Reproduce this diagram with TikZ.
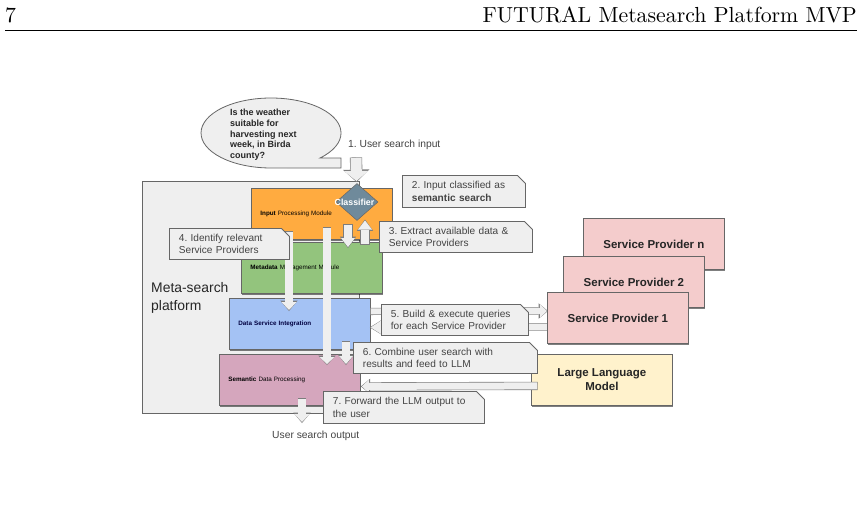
\documentclass[tikz,border=0pt]{standalone}
\usepackage{fontspec}
\setsansfont{Liberation Sans}
\newfontfamily\headfont[Extension=.otf]{lmroman10-regular}
\frenchspacing
\usetikzlibrary{arrows.meta,shapes.geometric,shapes.misc,shadows}
\definecolor{edgegray}{HTML}{666666}
\definecolor{palegray}{HTML}{EFEFEF}
\definecolor{inputorange}{HTML}{FFAB40}
\definecolor{metagreen}{HTML}{93C47D}
\definecolor{dsiblue}{HTML}{A4C2F4}
\definecolor{sdpmauve}{HTML}{D5A6BD}
\definecolor{sprose}{HTML}{F4CCCC}
\definecolor{llmyellow}{HTML}{FFF2CC}
\definecolor{slateblue}{HTML}{6F8A9B}
\definecolor{labelgray}{HTML}{434343}
\tikzset{
	softshadow/.style = {drop shadow={shadow xshift=0.8pt, shadow yshift=-1.5pt, opacity=0.5, fill=black}},
	modbox/.style = {rectangle, draw=edgegray, line width=0.8pt, anchor=north west, inner xsep=9pt, inner ysep=0pt,
		text width=123pt, minimum height=51pt, align=left, font=\sffamily\fontsize{6.3}{7.5}\selectfont, softshadow},
	provider/.style = {rectangle, draw=edgegray, line width=0.8pt, anchor=north west, inner sep=0pt,
		minimum width=141pt, minimum height=51pt, align=center, font=\sffamily\bfseries\fontsize{11.5}{13.7}\selectfont, text=black!85, softshadow},
	note/.style = {chamfered rectangle, chamfered rectangle corners=north east, chamfered rectangle xsep=4pt, chamfered rectangle ysep=4pt,
		draw=edgegray, fill=palegray, line width=0.8pt, anchor=north west, inner xsep=5.5pt, inner ysep=0pt,
		align=left, text=labelgray, font=\sffamily\fontsize{10.1}{12.9}\selectfont},
	plainlabel/.style = {anchor=west, inner sep=0pt, text=labelgray, font=\sffamily\fontsize{10.3}{12}\selectfont},
	blockarrow/.style n args = {3}{line width=#1, draw=palegray, -{Triangle[width=#2, length=#3, line width=0pt]},
		preaction={draw=edgegray!85, line width=#1+1.2pt, shorten >=-1pt, shorten <=-0.6pt,
			-{Triangle[width=#2+2.4pt, length=#3+2.4pt, line width=0pt]}}}
}
\begin{document}
\begin{tikzpicture}[x=1pt,y=1pt]
\useasboundingbox (0,0) rectangle (863,-512);
% running head
\node [anchor=base west, inner sep=0pt, font=\headfont\fontsize{21.8}{26}\selectfont] (pagenum) at (5,-22) {7};
\node [anchor=base east, inner sep=0pt, font=\headfont\fontsize{21.8}{26}\selectfont] (runhead) at (857,-22) {FUTURAL Metasearch Platform MVP};
\coordinate (ruleleft) at (5,-30);
\coordinate (ruleright) at (857,-30);
\draw [line width=0.8pt] (ruleleft) -- (ruleright);

% platform and speech bubble
\node [rectangle, draw=edgegray, fill=palegray, line width=0.8pt, anchor=north west, inner sep=0pt, minimum width=217pt, minimum height=232pt] (platform) at (141.5,-181) {};
\node [anchor=north west, inner sep=0pt, align=left, font=\sffamily\fontsize{13.9}{18}\selectfont, text=black!85] (platformlabel) at (151,-282) {Meta-search\\platform};
\draw [draw=edgegray, fill=palegray, line width=0.8pt] (320,-158) arc[start angle=-45.6, end angle=270, x radius=70, y radius=35] -- (341,-168) -- (341,-158) -- cycle;
\node [anchor=north west, inner sep=0pt, align=left, font=\sffamily\bfseries\fontsize{9}{10.7}\selectfont, text=black!85] (question) at (230,-109) {Is the weather\\suitable for\\harvesting next\\week, in Birda\\county?};

% modules
\node [modbox, fill=inputorange] (input) at (251,-188) {\textbf{Input} Processing Module};
\node [modbox, fill=metagreen] (metadata) at (241,-242) {\textbf{Metadata} Management Module};
\node [modbox, fill=dsiblue, text=blue!25!black] (dsi) at (229,-298) {\textbf{Data Service Integration}};
\node [modbox, fill=sdpmauve] (sdp) at (219,-354) {\textbf{Semantic} Data Processing};

% providers and model
\node [provider, fill=sprose] (spn) at (583,-218) {Service Provider n};
\node [provider, fill=sprose] (sptwo) at (563,-256) {Service Provider 2};
\node [provider, fill=llmyellow] (llm) at (531,-354) {Large Language\\Model};

% arrows
\coordinate (userin) at (356,-158);
\coordinate (identify) at (289,-232);
\coordinate (userout) at (302,-422);
\coordinate (classifiertop) at (356.5,-181);
\coordinate (classifierbottom) at (357,-220.5);
\draw [blockarrow={11pt}{24pt}{10pt}] (userin) -- (classifiertop);
\draw [blockarrow={8.5pt}{14pt}{9pt}] ([xshift=-9pt,yshift=-4pt]classifierbottom) -- ([xshift=107pt,yshift=-5pt]metadata.north west);
\draw [blockarrow={8.5pt}{14pt}{9pt}] ([xshift=124pt,yshift=-2pt]metadata.north west) -- ([xshift=8pt]classifierbottom);
\draw [blockarrow={7.5pt}{15pt}{8pt}] (identify) -- ([xshift=60pt,yshift=-12pt]dsi.north west);
\draw [blockarrow={7.5pt}{15pt}{7pt}] ([xshift=76pt,yshift=-40pt]input.north west) -- ([xshift=108pt,yshift=-10pt]sdp.north west);
\draw [blockarrow={7.5pt}{14pt}{8pt}] ([xshift=117pt,yshift=8pt]dsi.south west) -- ([xshift=127pt,yshift=-10pt]sdp.north west);
\draw [blockarrow={7.5pt}{15pt}{8pt}] ([xshift=83pt,yshift=7pt]sdp.south west) -- (userout);
\draw [blockarrow={6pt}{13pt}{7pt}] ([yshift=12.5pt]dsi.east) -- (547,-311);
\draw [blockarrow={6pt}{13pt}{10pt}] (547,-327) -- ([yshift=-3.5pt]dsi.east);
\draw [blockarrow={7pt}{13pt}{7pt}] ([xshift=6pt,yshift=-6pt]llm.west) -- ([xshift=1pt,yshift=-6.5pt]sdp.east);

\node [diamond, aspect=1.13, fill=slateblue, draw=edgegray, line width=0.5pt, inner sep=0pt, minimum width=42pt, minimum height=37pt, text=white, font=\sffamily\bfseries\fontsize{8.8}{10}\selectfont] (classifier) at (357,-202) {\makebox[0pt]{\hspace*{-5pt}Classifier}};
\node [provider, fill=sprose] (spone) at (547,-292) {Service Provider 1};

% notes and labels
\node [plainlabel] (stepone) at (348,-145) {1. User search input};
\node [note, text width=104pt, minimum height=32pt] (steptwo) at (402,-175) {2. Input classified as\\\textbf{semantic search}};
\node [note, text width=134pt, minimum height=31pt] (stepthree) at (379,-221) {3. Extract available data \&\\Service Providers};
\node [note, text width=101pt, minimum height=31pt] (stepfour) at (169,-228) {4. Identify relevant\\Service Providers};
\node [note, text width=128pt, minimum height=31pt] (stepfive) at (381,-304) {5. Build \& execute queries\\for each Service Provider};
\node [note, text width=165pt, minimum height=31pt] (stepsix) at (353,-342) {6. Combine user search with\\results and feed to LLM};
\node [note, text width=142pt, minimum height=32pt] (stepseven) at (323,-391) {7. Forward the LLM output to\\the user};
\node [plainlabel] (outlabel) at (272,-436) {User search output};
\end{tikzpicture}
\end{document}
